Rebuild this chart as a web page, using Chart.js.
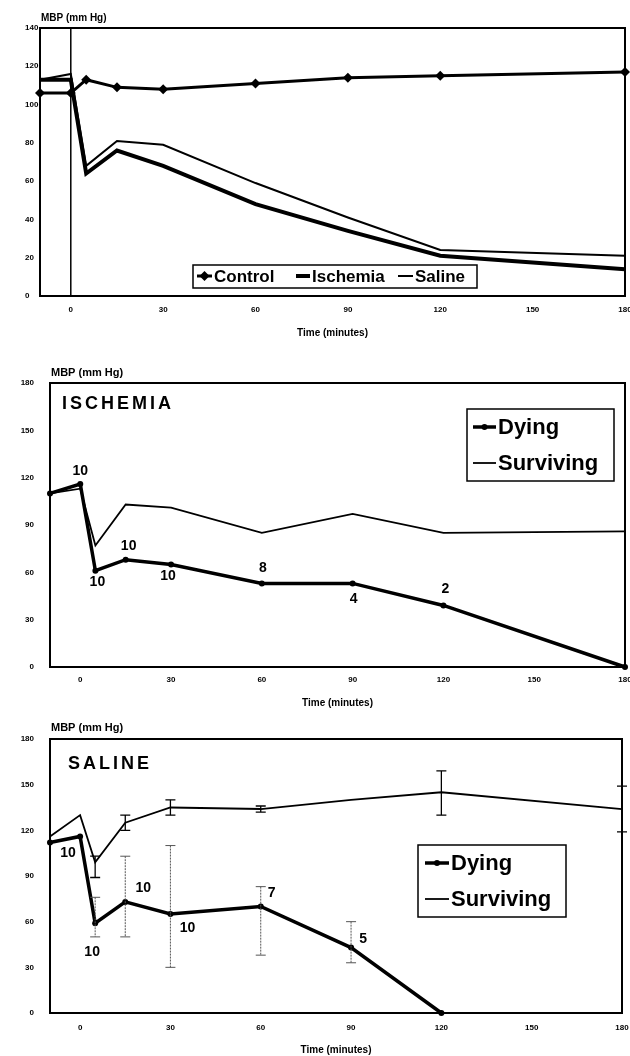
<!DOCTYPE html>
<html>
<head>
<meta charset="utf-8">
<script src="https://cdn.jsdelivr.net/npm/chart.js@4/dist/chart.umd.min.js"></script>
<style>
  html, body { margin: 0; padding: 0; background: #fff; }
  #wrap { position: relative; width: 630px; height: 1056px; }
  .panel { position: absolute; left: 0; width: 630px; }
</style>
</head>
<body>
<div id="wrap">
  <div class="panel" style="top:0;height:340px"><canvas id="c1"></canvas></div>
  <div class="panel" style="top:340px;height:370px"><canvas id="c2"></canvas></div>
  <div class="panel" style="top:710px;height:346px"><canvas id="c3"></canvas></div>
</div>
<script>
/* ── Data ─────────────────────────────────────────────────────────────── */
const X_TICKS = [0, 30, 60, 90, 120, 150, 180];

// Panel 1 – group means
const timesAll    = [-10, 0, 5, 15, 30, 60, 90, 120, 180];
const controlMbp  = [106, 106, 113, 109, 108, 111, 114, 115, 117];
const ischemiaMbp = [113, 113, 64, 76, 68, 48, 34, 21, 14];
const salineMbp   = [113, 116, 68, 81, 79, 59, 41, 24, 21];
const injectTime  = 0;           // vertical marker at t = 0

// Panel 2 – ischemia, dying vs surviving
const ischTimes     = [-10, 0, 5, 15, 30, 60, 90, 120, 180];
const ischDying     = [110, 116, 61, 68, 65, 53, 53, 39, 0];
const ischSurviving = [110, 113, 77, 103, 101, 85, 97, 85, 86];
const ischDyingN    = [null, 10, 10, 10, 10, 8, 4, 2, null];

// Panel 3 – saline, dying vs surviving (with error bars)
const salTimes     = [-10, 0, 5, 15, 30, 60, 90, 120, 180];
const salDying     = [112, 116, 59, 73, 65, 70, 43, 0, null];
const salDyingHi   = [null, null, 76, 103, 110, 83, 60, null, null];
const salDyingLo   = [null, null, 50, 50, 30, 38, 33, null, null];
const salSurviving = [116, 130, 99, 125, 135, 134, 140, 145, 134];
const salSurvHi    = [null, null, 103, 130, 140, 136, null, 159, 149];
const salSurvLo    = [null, null, 89, 120, 130, 132, null, 130, 119];
const salDyingN    = [null, 10, 10, 10, 10, 7, 5, null, null];

/* ── Helpers ──────────────────────────────────────────────────────────── */
const FONT = '"Liberation Sans", Arial, sans-serif';
const INK = '#000';

function pts(times, vals) {
  return times.map((t, i) => ({ x: t, y: vals[i] })).filter(p => p.y != null);
}

function marker(ctx, style, x, y, r) {
  ctx.beginPath();
  if (style === 'rectRot') {
    ctx.moveTo(x, y - r); ctx.lineTo(x + r, y); ctx.lineTo(x, y + r); ctx.lineTo(x - r, y);
    ctx.closePath();
  } else {
    ctx.arc(x, y, r, 0, Math.PI * 2);
  }
  ctx.fill();
}

/* ── Plugin: frame, titles, counts, error bars, legend ───────────────── */
const decor = {
  id: 'decor',
  afterDatasetsDraw(chart, args, o) {
    const { ctx, scales: { x, y } } = chart;
    ctx.save();
    (o.errorBars || []).forEach(eb => {
      ctx.strokeStyle = eb.color;
      ctx.lineWidth = eb.width;
      eb.times.forEach((t, i) => {
        if (eb.hi[i] == null) return;
        const px = x.getPixelForValue(t);
        const yh = y.getPixelForValue(eb.hi[i]);
        const yl = y.getPixelForValue(eb.lo[i]);
        ctx.setLineDash(eb.dash || []);
        ctx.beginPath();
        ctx.moveTo(px, yh); ctx.lineTo(px, yl);
        ctx.stroke();
        ctx.setLineDash([]);
        ctx.beginPath();
        ctx.moveTo(px - 5, yh); ctx.lineTo(px + 5, yh);
        ctx.moveTo(px - 5, yl); ctx.lineTo(px + 5, yl);
        ctx.stroke();
      });
    });
    ctx.restore();
  },
  afterDraw(chart, args, o) {
    const { ctx, chartArea: a, scales: { x, y } } = chart;
    ctx.save();
    ctx.strokeStyle = INK;
    ctx.fillStyle = INK;

    // plot frame
    ctx.lineWidth = 2;
    ctx.strokeRect(a.left, a.top, a.right - a.left, a.bottom - a.top);

    // y title above the axis
    ctx.font = `bold ${o.yTitle.size}px ${FONT}`;
    ctx.textAlign = 'left';
    ctx.textBaseline = 'middle';
    ctx.fillText('MBP (mm Hg)', o.yTitle.x, o.yTitle.y);

    // panel label
    if (o.panelTitle) {
      ctx.font = `bold 18px ${FONT}`;
      ctx.letterSpacing = '3px';
      ctx.fillText(o.panelTitle.text, o.panelTitle.x, o.panelTitle.y);
      ctx.letterSpacing = '0px';
    }

    // n per time point
    if (o.counts) {
      const c = o.counts;
      ctx.font = `bold 14px ${FONT}`;
      ctx.textAlign = 'center';
      c.n.forEach((n, i) => {
        if (n == null) return;
        const off = c.offsets[i] || [0, 0];
        ctx.fillText(String(n),
          x.getPixelForValue(c.times[i]) + off[0],
          y.getPixelForValue(c.vals[i]) + off[1]);
      });
    }

    // legend
    if (o.legend) {
      const lg = o.legend;
      const [bx, by, bw, bh] = lg.box;
      ctx.lineWidth = 1.5;
      ctx.strokeRect(bx, by, bw, bh);
      ctx.font = `bold ${lg.size}px ${FONT}`;
      ctx.textAlign = 'left';
      ctx.textBaseline = 'middle';
      lg.items.forEach(it => {
        const ds = chart.data.datasets[it.dataset];
        ctx.lineWidth = ds.borderWidth;
        ctx.beginPath();
        ctx.moveTo(it.x, it.y); ctx.lineTo(it.x + it.w, it.y);
        ctx.stroke();
        if (ds.pointRadius > 0) marker(ctx, ds.pointStyle, it.x + it.w / 2, it.y, ds.pointRadius);
        ctx.fillText(ds.label, it.x + it.w + 2, it.y + 1);
      });
    }
    ctx.restore();
  }
};

function buildOptions(cfg) {
  return {
    responsive: true,
    maintainAspectRatio: false,
    animation: false,
    layout: { padding: { top: cfg.top, left: cfg.padLeft, right: cfg.padRight, bottom: 0 } },
    plugins: {
      legend: { display: false },
      tooltip: { enabled: false },
      decor: cfg.decor
    },
    scales: {
      x: {
        type: 'linear', min: -10, max: 180,
        grid: { display: false, drawTicks: false },
        border: { display: false },
        afterBuildTicks: s => { s.ticks = X_TICKS.map(v => ({ value: v })); },
        afterFit: s => { s.height = cfg.xHeight; s.paddingLeft = 0; s.paddingRight = 0; },
        ticks: { padding: cfg.xTickPad, color: INK, autoSkip: false, maxRotation: 0,
                 font: { size: 8, weight: 'bold', family: FONT } },
        title: { display: true, text: 'Time (minutes)', color: INK,
                 font: { size: 10, weight: 'bold', family: FONT },
                 padding: { top: 0, bottom: cfg.xTitlePad } }
      },
      y: {
        min: 0, max: cfg.yMax,
        grid: { display: false, drawTicks: false },
        border: { display: false },
        afterFit: s => { s.width = cfg.yWidth; s.paddingTop = 0; s.paddingBottom = 0; },
        ticks: { stepSize: cfg.yStep, padding: cfg.yTickPad, crossAlign: cfg.yAlign, color: INK,
                 font: { size: 8, weight: 'bold', family: FONT } }
      }
    }
  };
}

function lineDs(label, data, width, radius, style) {
  return {
    label, data,
    borderColor: INK, backgroundColor: INK,
    borderWidth: width,
    pointRadius: radius, pointStyle: style || 'circle',
    pointBackgroundColor: INK, pointBorderWidth: 0,
    tension: 0, clip: false
  };
}

/* ── Panel 1 ──────────────────────────────────────────────────────────── */
new Chart(document.getElementById('c1'), {
  type: 'line',
  data: {
    datasets: [
      lineDs('Control', pts(timesAll, controlMbp), 3, 5, 'rectRot'),
      lineDs('Ischemia', pts(timesAll, ischemiaMbp), 4, 0),
      lineDs('Saline', pts(timesAll, salineMbp), 2, 0),
      lineDs('', [{ x: injectTime, y: 0 }, { x: injectTime, y: 140 }], 1.5, 0)
    ]
  },
  options: buildOptions({
    top: 28, padLeft: 25, padRight: 5, yWidth: 15, yAlign: 'far', yTickPad: 0,
    xHeight: 44, xTickPad: 9, xTitlePad: 1, yMax: 140, yStep: 20,
    decor: {
      yTitle: { x: 41, y: 18, size: 10 },
      legend: {
        box: [193, 265, 284, 23], size: 17,
        items: [
          { dataset: 0, x: 197, y: 276, w: 15 },
          { dataset: 1, x: 296, y: 276, w: 14 },
          { dataset: 2, x: 398, y: 276, w: 15 }
        ]
      }
    }
  }),
  plugins: [decor]
});

/* ── Panel 2 ──────────────────────────────────────────────────────────── */
new Chart(document.getElementById('c2'), {
  type: 'line',
  data: {
    datasets: [
      lineDs('Dying', pts(ischTimes, ischDying), 3.5, 3),
      lineDs('Surviving', pts(ischTimes, ischSurviving), 1.8, 0)
    ]
  },
  options: buildOptions({
    top: 43, padLeft: 0, padRight: 5, yWidth: 50, yAlign: 'near', yTickPad: 16,
    xHeight: 43, xTickPad: 8, xTitlePad: 1, yMax: 180, yStep: 30,
    decor: {
      yTitle: { x: 51, y: 33, size: 11 },
      panelTitle: { text: 'ISCHEMIA', x: 62, y: 64 },
      counts: {
        times: ischTimes, vals: ischDying, n: ischDyingN,
        offsets: { 1: [0, -13], 2: [2, 11], 3: [3, -14], 4: [-3, 12], 5: [1, -15], 6: [1, 16], 7: [2, -16] }
      },
      legend: {
        box: [467, 69, 147, 72], size: 22,
        items: [
          { dataset: 0, x: 473, y: 87, w: 23 },
          { dataset: 1, x: 473, y: 123, w: 23 }
        ]
      }
    }
  }),
  plugins: [decor]
});

/* ── Panel 3 ──────────────────────────────────────────────────────────── */
new Chart(document.getElementById('c3'), {
  type: 'line',
  data: {
    datasets: [
      lineDs('Dying', pts(salTimes, salDying), 3.5, 3),
      lineDs('Surviving', pts(salTimes, salSurviving), 1.8, 0)
    ]
  },
  options: buildOptions({
    top: 29, padLeft: 0, padRight: 8, yWidth: 50, yAlign: 'near', yTickPad: 16,
    xHeight: 43, xTickPad: 10, xTitlePad: 0, yMax: 180, yStep: 30,
    decor: {
      yTitle: { x: 51, y: 18, size: 11 },
      panelTitle: { text: 'SALINE', x: 68, y: 54 },
      counts: {
        times: salTimes, vals: salDying, n: salDyingN,
        offsets: { 1: [-12, 17], 2: [-3, 29], 3: [18, -14], 4: [17, 14], 5: [11, -13], 6: [12, -8] }
      },
      errorBars: [
        { times: salTimes, hi: salDyingHi, lo: salDyingLo, color: '#555', width: 1, dash: [2, 1] },
        { times: salTimes, hi: salSurvHi, lo: salSurvLo, color: INK, width: 1.3 }
      ],
      legend: {
        box: [418, 135, 148, 72], size: 22,
        items: [
          { dataset: 0, x: 425, y: 153, w: 24 },
          { dataset: 1, x: 425, y: 189, w: 24 }
        ]
      }
    }
  }),
  plugins: [decor]
});
</script>
</body>
</html>
